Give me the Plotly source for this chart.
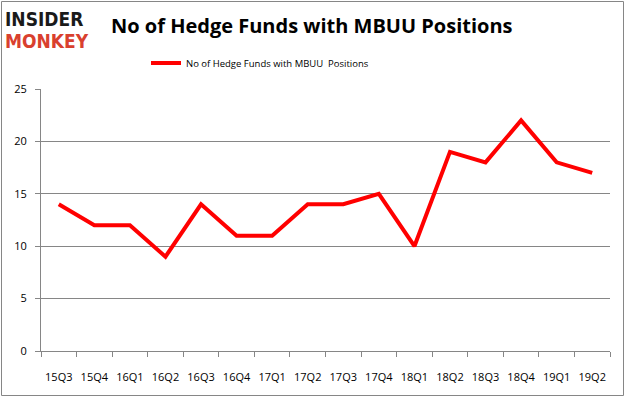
import plotly.graph_objects as go

quarters = ["15Q3","15Q4","16Q1","16Q2","16Q3","16Q4","17Q1","17Q2","17Q3","17Q4",
            "18Q1","18Q2","18Q3","18Q4","19Q1","19Q2"]
funds = [14,12,12,9,14,11,11,14,14,15,10,19,18,22,18,17]
series_name = "No of Hedge Funds with MBUU  Positions"
title_text = "No of Hedge Funds with MBUU Positions"

W, H = 626, 397
L, R, T, B = 41, 610, 89, 351
pw, ph = R - L, B - T

def px(x):
    return (x - L) / pw

def py(y):
    return (B - y) / ph

fig = go.Figure()
fig.add_trace(go.Scatter(x=quarters, y=funds, mode="lines", name=series_name,
                         line=dict(color="#ff0000", width=4)))

fig.update_layout(
    width=W, height=H,
    margin=dict(l=L, r=W - R, t=T, b=H - B, autoexpand=False),
    paper_bgcolor="white", plot_bgcolor="white",
    font=dict(family="Open Sans, DejaVu Sans", color="#000000", size=11),
    showlegend=True,
    legend=dict(orientation="h", x=px(146), xanchor="left", y=py(63), yanchor="middle",
                font=dict(size=9.5), bgcolor="rgba(0,0,0,0)", itemwidth=30),
    xaxis=dict(type="category", range=[-0.5, 15.5], tickson="boundaries",
               ticks="outside", ticklen=5, tickcolor="#868686", tickangle=0,
               ticklabelstandoff=16, automargin=False,
               showline=True, linecolor="#868686", linewidth=1,
               showgrid=False, tickfont=dict(size=11)),
    yaxis=dict(range=[0, 25], dtick=5, showgrid=True, gridcolor="#868686", gridwidth=1,
               showline=True, linecolor="#868686", linewidth=1, zeroline=False,
               ticklabelstandoff=6, automargin=False,
               ticks="outside", ticklen=5, tickcolor="#868686", tickfont=dict(size=11)),
    shapes=[dict(type="rect", xref="paper", yref="paper",
                 x0=px(1.5), x1=px(623.5), y0=py(395.5), y1=py(1.5),
                 line=dict(color="#868686", width=1), fillcolor="rgba(0,0,0,0)", layer="below")],
    annotations=[
        dict(text="<b>" + title_text + "</b>", xref="paper", yref="paper",
             x=px(312), y=py(25), xanchor="center", yanchor="middle", showarrow=False,
             font=dict(size=20, family="Open Sans, DejaVu Sans", color="#000000")),
        dict(text="<b>INSIDER</b>", xref="paper", yref="paper",
             x=px(3), y=py(19), xanchor="left", yanchor="middle", showarrow=False,
             font=dict(size=19, family="DejaVu Sans Condensed, DejaVu Sans", color="#1a1a1a")),
        dict(text="<b>MONKEY</b>", xref="paper", yref="paper",
             x=px(3), y=py(41), xanchor="left", yanchor="middle", showarrow=False,
             font=dict(size=19, family="DejaVu Sans Condensed, DejaVu Sans", color="#d9402e")),
    ],
)

fig.write_html("out.html", config={"displayModeBar": False},
               post_script="document.body.style.margin='0';")
